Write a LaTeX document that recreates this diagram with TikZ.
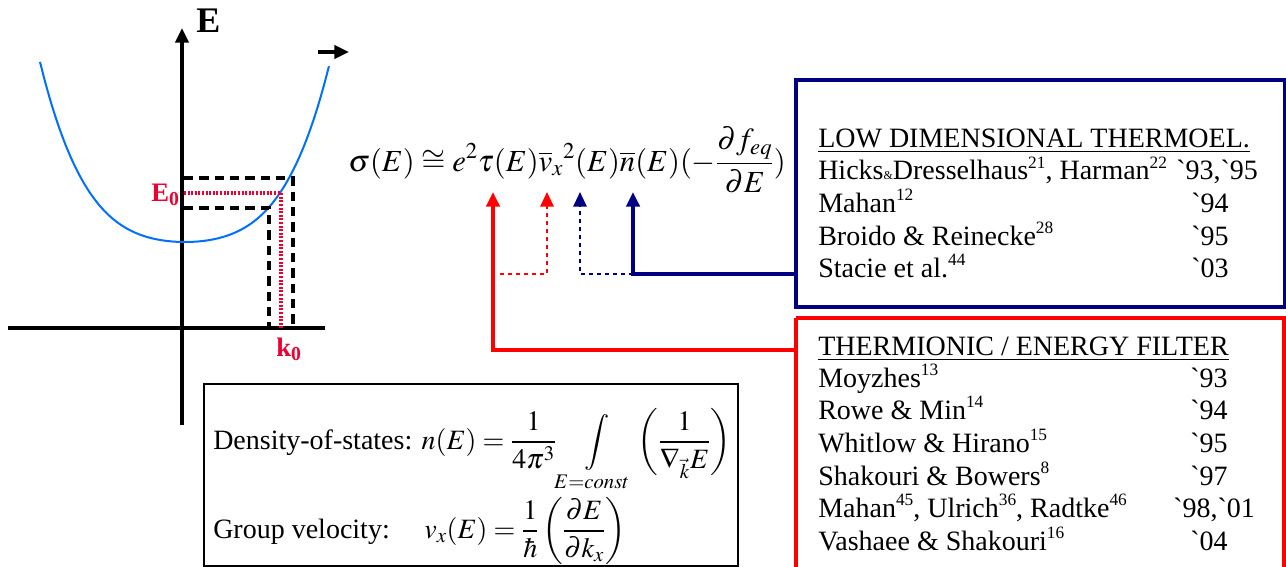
\documentclass[tikz,border=0pt]{standalone}
\usepackage{amsmath}
\usepackage{mathptmx}
\usepackage{fontspec}
\setmainfont{Liberation Serif}
\newfontfamily\yrfont{Liberation Serif}
\usetikzlibrary{arrows.meta}
\definecolor{lowblue}{RGB}{0,0,128}
\definecolor{thermred}{RGB}{255,0,0}
\definecolor{bandblue}{RGB}{0,110,255}
\definecolor{kred}{RGB}{235,0,50}
\newcommand{\yr}[1]{{\yrfont\char96\relax#1}}
\newcommand{\rf}[1]{\raisebox{0.42em}{\fontsize{13}{13}\selectfont #1}}

\begin{document}
\begin{tikzpicture}[x=0.75pt,y=-0.75pt,
    >={Triangle[length=11pt,width=10pt]},
    lbl/.style={anchor=base west, inner sep=0pt, font=\fontsize{21}{24}\selectfont},
    yr/.style={anchor=base west, inner sep=0pt, font=\fontsize{21}{24}\selectfont}]
  \useasboundingbox (0,0) rectangle (1286,567);

  % band diagram
  \draw[line width=2.5pt] (8,328) -- (325,328);
  \draw[line width=2.5pt, ->] (182,425) -- (182,28);
  \node[anchor=base west, inner sep=0pt, font=\fontsize{27}{30}\selectfont\bfseries] (Elabel) at (196,33) {E};
  \draw[line width=2.5pt, ->] (318,52) -- (349,52);
  \draw[bandblue, line width=1.5pt, domain=-1.45:1.44, samples=80, smooth]
    plot ({185+100*\x}, {242-31*\x*\x-26*\x*\x*\x*\x});
  \draw[line width=2.3pt, dash pattern=on 7pt off 4.5pt] (184,178) -- (293,178) -- (293,328);
  \draw[line width=2.3pt, dash pattern=on 7pt off 4.5pt] (184,208) -- (269,208) -- (269,328);
  \draw[kred, line width=2.4pt, dash pattern=on 1.5pt off 1.2pt] (184,193) -- (281,193) -- (281,328);
  \node[anchor=base east, inner sep=0pt, kred, font=\fontsize{20}{22}\selectfont\bfseries] (E0) at (180,201) {E\textsubscript{0}};
  \node[anchor=base, inner sep=0pt, kred, font=\fontsize{20}{22}\selectfont\bfseries] (k0) at (289,356) {k\textsubscript{0}};

  % conductivity
  \node[anchor=west, inner sep=0pt, font=\fontsize{23}{26}\selectfont] (sigma) at (348,160)
    {$\displaystyle \sigma(E)\cong e^2\tau(E)\overline{v}_x{}^2(E)\overline{n}(E)(-\frac{\partial f_{eq}}{\partial E})$};
  \coordinate (tau) at (493,192);
  \coordinate (vx) at (547,192);
  \coordinate (nb) at (580,192);
  \coordinate (nn) at (633,192);
  \coordinate (redknee) at (493,350);
  \coordinate (vknee) at (547,274);
  \coordinate (vend) at (500,274);
  \coordinate (nknee) at (580,274);
  \coordinate (nnknee) at (633,274);

  % low dimensional box
  \draw[lowblue, line width=2.6pt] (796,80) rectangle (1285,307);
  \node[lbl] (lowt) at (818,147) {\underline{LOW DIMENSIONAL THERMOEL.}};
  \node[lbl] (low1) at (818,180) {Hicks{\fontsize{9}{9}\selectfont\&}Dresselhaus\rf{21}, Harman\rf{22}};
  \node[lbl] (low2) at (818,212) {Mahan\rf{12}};
  \node[lbl] (low3) at (818,245) {Broido \& Reinecke\rf{28}};
  \node[lbl] (low4) at (818,277) {Stacie et al.\rf{44}};
  \node[yr] (lowy1) at (1176,180) {\yr{93},\yr{95}};
  \node[yr] (lowy2) at (1191,212) {\yr{94}};
  \node[yr] (lowy3) at (1191,245) {\yr{95}};
  \node[yr] (lowy4) at (1191,277) {\yr{03}};
  \coordinate (lowin) at (796,274);

  % thermionic box
  \draw[thermred, line width=2.6pt] (796,318) -- (1284,318) -- (1284,570);
  \draw[thermred, line width=2.6pt] (796,318) -- (796,570);
  \node[lbl] (tht) at (818,355) {\underline{THERMIONIC / ENERGY FILTER}};
  \node[lbl] (th1) at (818,387) {Moyzhes\rf{13}};
  \node[lbl] (th2) at (818,419) {Rowe \& Min\rf{14}};
  \node[lbl] (th3) at (818,452) {Whitlow \& Hirano\rf{15}};
  \node[lbl] (th4) at (818,485) {Shakouri \& Bowers\rf{8}};
  \node[lbl] (th5) at (818,517) {Mahan\rf{45}, Ulrich\rf{36}, Radtke\rf{46}};
  \node[lbl] (th6) at (818,550) {Vashaee \& Shakouri\rf{16}};
  \node[yr] (thy1) at (1190,387) {\yr{93}};
  \node[yr] (thy2) at (1190,419) {\yr{94}};
  \node[yr] (thy3) at (1190,452) {\yr{95}};
  \node[yr] (thy4) at (1190,485) {\yr{97}};
  \node[yr] (thy5) at (1173,517) {\yr{98},\yr{01}};
  \node[yr] (thy6) at (1190,550) {\yr{04}};
  \coordinate (thin) at (796,350);

  % connectors
  \draw[thermred, line width=2.6pt, ->] (thin) -- (redknee) -- (tau);
  \draw[thermred, line width=1.6pt, dashed, ->] (vend) -- (vknee) -- (vx);
  \draw[lowblue, line width=1.6pt, dashed, ->] (nnknee) -- (nknee) -- (nb);
  \draw[lowblue, line width=2.6pt, ->] (lowin) -- (nnknee) -- (nn);

  % definitions box
  \draw[line width=1.5pt] (204,384) rectangle (738,566);
  \node[lbl] (dos) at (213,449) {Density-of-states: $n(E)=\dfrac{1}{4\pi^3}\displaystyle\int\limits_{E=const}\left(\frac{1}{\nabla_{\vec{k}}E}\right)$};
  \node[lbl] (gv) at (213,538) {Group velocity:\hspace{0.9em} $v_x(E)=\dfrac{1}{\hbar}\left(\dfrac{\partial E}{\partial k_x}\right)$};
\end{tikzpicture}
\end{document}
